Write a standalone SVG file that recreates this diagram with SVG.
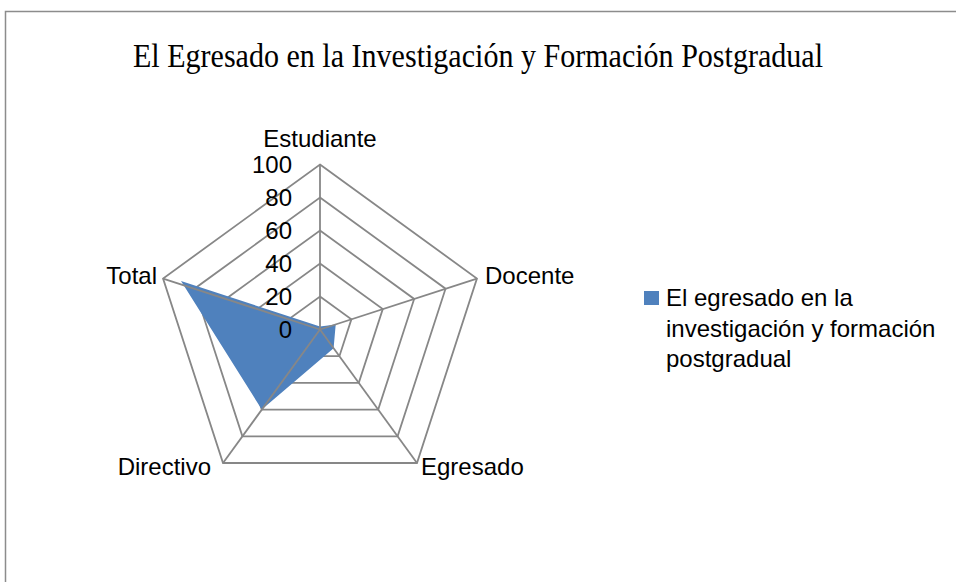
<svg xmlns="http://www.w3.org/2000/svg" width="956" height="582" viewBox="0 0 956 582">
<style>
.grid{fill:none;stroke:#878787;stroke-width:1.8;stroke-linejoin:miter}
.lbl{font-family:"Liberation Sans",Arial,sans-serif;font-size:24px;fill:#000}
.title{font-family:"Liberation Serif","Times New Roman",serif;font-size:33px;fill:#000}
</style>
<rect width="956" height="582" fill="#fff"/>
<path d="M5.5 582 V11.5 H956" fill="none" stroke="#8c8c8c" stroke-width="1.5"/>
<text class="title" x="478" y="67" text-anchor="middle" textLength="690" lengthAdjust="spacingAndGlyphs">El Egresado en la Investigación y Formación Postgradual</text>
<g id="grid">
<polygon class="grid" points="320,296.5 351.39,319.3 339.4,356.2 300.6,356.2 288.61,319.3"/>
<polygon class="grid" points="320,263.5 382.77,309.11 358.79,382.89 281.21,382.89 257.23,309.11"/>
<polygon class="grid" points="320,230.5 414.16,298.91 378.19,409.59 261.81,409.59 225.84,298.91"/>
<polygon class="grid" points="320,197.5 445.54,288.71 397.59,436.29 242.41,436.29 194.46,288.71"/>
<polygon class="grid" points="320,164.5 476.93,278.52 416.98,462.99 223.02,462.99 163.07,278.52"/>
</g>
<g id="series">
<polygon points="320,326.5 335.7,324.4 333.6,348.2 261.8,409.6 181,281" fill="#4f81bd"/>
</g>
<g id="axes" class="grid">
<line x1="320" y1="329.5" x2="320" y2="164.5"/>
<line x1="320" y1="329.5" x2="476.93" y2="278.52"/>
<line x1="320" y1="329.5" x2="416.98" y2="462.99"/>
<line x1="320" y1="329.5" x2="223.02" y2="462.99"/>
<line x1="320" y1="329.5" x2="163.07" y2="278.52"/>
</g>
<g id="ticks" class="lbl" text-anchor="end">
<text x="292" y="173">100</text>
<text x="292" y="206">80</text>
<text x="292" y="239">60</text>
<text x="292" y="272">40</text>
<text x="292" y="305">20</text>
<text x="292" y="338">0</text>
</g>
<g id="estudiante"><text class="lbl" x="320" y="147" text-anchor="middle">Estudiante</text></g>
<g id="docente"><text class="lbl" x="485" y="284">Docente</text></g>
<g id="egresado"><text class="lbl" x="421" y="475">Egresado</text></g>
<g id="directivo"><text class="lbl" x="211" y="475" text-anchor="end">Directivo</text></g>
<g id="total"><text class="lbl" x="157" y="284" text-anchor="end">Total</text></g>
<g id="legend">
<rect x="644" y="291" width="15" height="14" fill="#4f81bd"/>
<text class="lbl" x="666" y="306">El egresado en la</text>
<text class="lbl" x="666" y="337">investigación y formación</text>
<text class="lbl" x="666" y="367">postgradual</text>
</g>
</svg>
